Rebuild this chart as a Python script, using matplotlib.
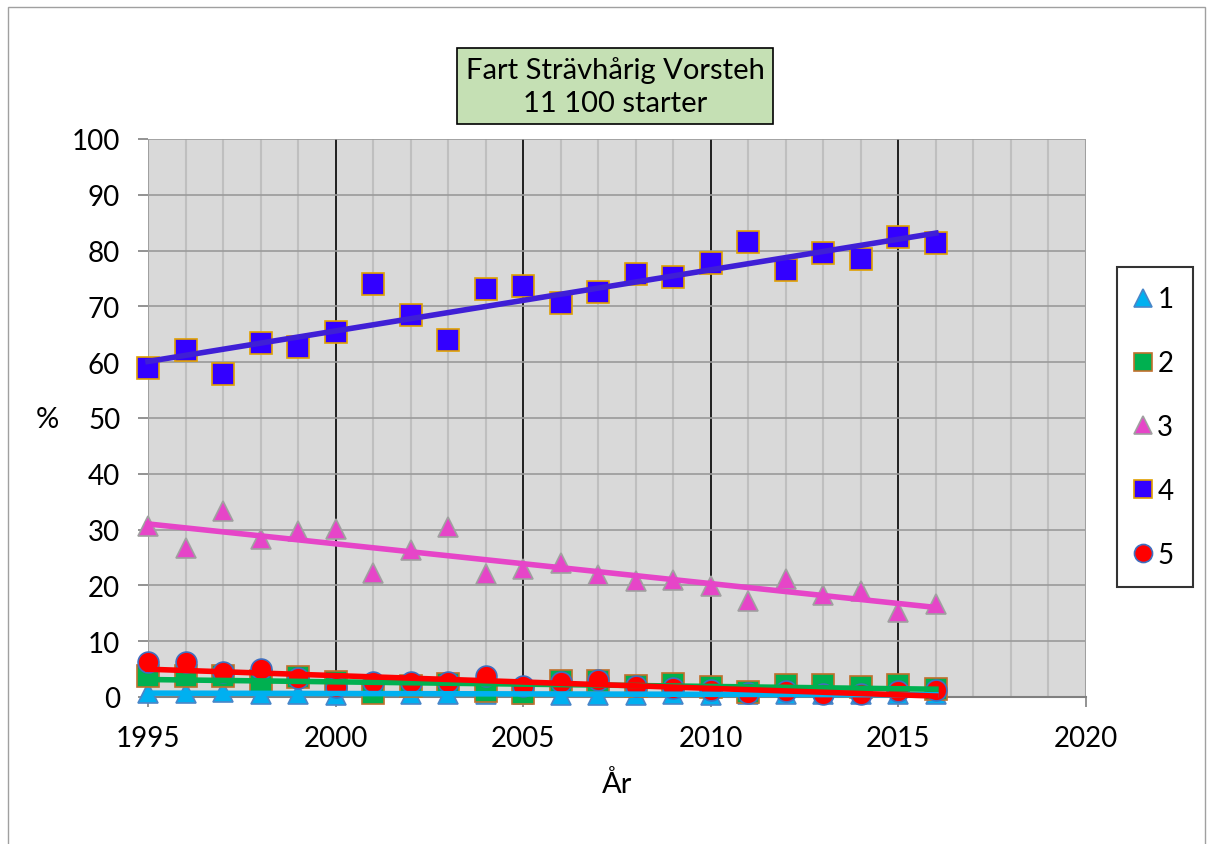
import numpy as np
import matplotlib.pyplot as plt
from matplotlib.lines import Line2D
from matplotlib.patches import Rectangle

plt.rcParams['font.family'] = ['Lato', 'DejaVu Sans']

# Data
years = list(range(1995, 2017))
s1 = [0.8, 0.8, 0.9, 0.6, 0.6, 0.3, 0.8, 0.5, 0.6, 0.6, 0.6,
      0.3, 0.3, 0.4, 0.5, 0.4, 0.5, 0.5, 0.5, 0.5, 0.5, 0.5]
s2 = [3.8, 3.8, 3.8, 2.9, 3.5, 2.7, 0.8, 2.0, 2.3, 1.0, 0.8,
      2.9, 2.8, 2.0, 2.3, 1.8, 0.9, 2.1, 2.2, 1.8, 2.2, 1.4]
s3 = [30.6, 26.7, 33.3, 28.3, 29.7, 30.1, 22.2, 26.3, 30.5, 22.0, 22.9,
      24.0, 21.9, 20.8, 21.0, 19.9, 17.2, 21.1, 18.3, 19.0, 15.2, 16.7]
s4 = [59.0, 62.2, 57.9, 63.4, 62.7, 65.4, 74.0, 68.5, 64.0, 73.1, 73.7,
      70.6, 72.6, 75.8, 75.3, 77.8, 81.5, 76.5, 79.6, 78.5, 82.4, 81.4]
s5 = [6.2, 6.2, 4.5, 5.0, 3.4, 1.8, 2.7, 2.7, 2.7, 3.8, 2.0,
      2.6, 3.1, 2.0, 1.6, 1.2, 0.7, 1.1, 0.6, 0.5, 1.0, 1.2]
labels = ['1', '2', '3', '4', '5']

series = [s1, s2, s3, s4, s5]
markers = ['^', 's', '^', 's', 'o']
faces = ['#00b0f0', '#00b050', '#e645c8', '#3300ff', '#ff0000']
edges = ['#4a86c8', '#c0702c', '#a0a0a0', '#e0a000', '#3f6fc0']
lines = ['#00b0f0', '#00b050', '#e645c8', '#3f1fd6', '#ff0000']
sizes = [15, 16, 15, 16, 15]

fig = plt.figure(figsize=(12.13, 8.45), dpi=100)
ax = fig.add_axes([148 / 1213, 1 - 698 / 845, 938 / 1213, 558 / 845])
ax.set_facecolor('#d9d9d9')

x = np.array(years)
for i, s in enumerate(series):
    ax.plot(x, s, linestyle='none', marker=markers[i], ms=sizes[i],
            mfc=faces[i], mec=edges[i], mew=1.2, clip_on=False, zorder=3 + i)

# linear trend lines on top of the markers
for i, s in enumerate(series):
    k, m = np.polyfit(x, s, 1)
    ax.plot(x, k * x + m, color=lines[i], lw=4, zorder=10 + i, clip_on=False)

ax.set_xlim(1995, 2020)
ax.set_ylim(0, 100)
ax.set_xticks(range(1995, 2021, 5))
ax.set_xticks(range(1995, 2021), minor=True)
ax.set_yticks(range(0, 101, 10))
ax.grid(False)
for yr in range(1996, 2020):
    c = 'black' if yr % 5 == 0 else '#bfbfbf'
    ax.axvline(yr, color=c, lw=1.2 if yr % 5 == 0 else 1.5, zorder=1)
for v in range(10, 101, 10):
    ax.axhline(v, color='#9a9a9a', lw=1.2, zorder=1)
ax.axvline(1995, color='#a0a0a0', lw=1.5, zorder=1)
ax.axvline(2020, color='#a0a0a0', lw=1.5, zorder=1)

for sp in ['top', 'right', 'left']:
    ax.spines[sp].set_visible(False)
ax.spines['bottom'].set_color('#808080')
ax.spines['bottom'].set_linewidth(1.5)
ax.tick_params(axis='both', which='major', labelsize=20, color='#808080',
               length=7, width=1.2, pad=13)
ax.tick_params(axis='x', which='minor', length=0)

fig.text(617 / 1213, 1 - 785 / 845, 'År', fontsize=21, ha='center', va='center')
fig.text(47 / 1213, 1 - 420 / 845, '%', fontsize=21, ha='center', va='center')

fig.text(615 / 1213, 1 - 87 / 845, 'Fart Strävhårig Vorsteh\n11 100 starter',
         fontsize=21, ha='center', va='center', linespacing=1.3,
         bbox=dict(boxstyle='square,pad=0.3', fc='#c5e0b4', ec='black', lw=1.2))

handles = [Line2D([], [], linestyle='none', marker=markers[i], ms=13,
                  mfc=faces[i], mec=edges[i], mew=1.2) for i in range(5)]
leg = fig.legend(handles, labels, loc='upper left',
                 bbox_to_anchor=(1117 / 1213, 1 - 268 / 845), fontsize=20,
                 frameon=True, fancybox=False, edgecolor='black',
                 labelspacing=1.36, handlelength=0.5, handletextpad=0.25,
                 borderpad=0.7, borderaxespad=0)
leg.get_frame().set_linewidth(1.5)

fig.patches.append(Rectangle((8 / 1213, -0.01), 1197 / 1213, 1 - 8 / 845 + 0.01,
                             transform=fig.transFigure, fill=False,
                             ec='#a0a0a0', lw=1))

fig.savefig('out.png', dpi=100)
